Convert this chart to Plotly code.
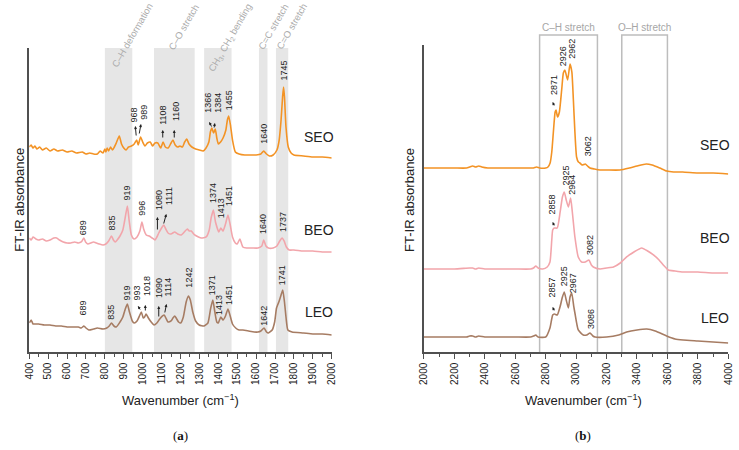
import plotly.graph_objects as go

# spectra (wavenumber, stacked absorbance in a.u.)
seo_a_wn = [400, 410, 420, 430, 440, 455, 470, 490, 510, 530, 550, 575, 600, 625, 650, 680, 700, 720, 740, 760,
            775, 790, 800, 805, 812, 820, 830, 840, 850, 860, 876, 888, 900, 912, 925, 940, 955, 968, 976, 989,
            1000, 1012, 1025, 1040, 1052, 1065, 1080, 1095, 1108, 1120, 1135, 1150, 1160, 1172, 1185, 1197, 1210,
            1222, 1233, 1245, 1260, 1280, 1300, 1320, 1335, 1350, 1358, 1366, 1375, 1384, 1392, 1400, 1412, 1425,
            1440, 1448, 1455, 1465, 1475, 1490, 1510, 1540, 1570, 1600, 1625, 1640, 1655, 1670, 1690, 1710, 1722,
            1732, 1740, 1745, 1750, 1758, 1770, 1785, 1800, 1850, 1900, 1950, 2000]
seo_a_abs = [205, 207, 204, 206, 203, 205, 202, 204, 201, 203, 201, 202, 200, 201, 199, 200, 198, 199, 198, 198,
             201, 199, 203, 200, 204, 201, 205, 202, 205, 209, 216, 208, 204, 202, 205, 206, 208, 212, 207, 215,
             210, 206, 209, 210, 206, 209, 209, 204, 210, 205, 204, 209, 212, 207, 205, 206, 205,
             210, 213, 208, 205, 203, 202, 201, 204, 210, 220, 224, 219, 223, 214, 208, 210, 214,
             222, 232, 236, 226, 212, 200, 198, 197, 197, 197, 198, 201, 198, 196, 197, 202, 212,
             232, 255, 265, 255, 225, 205, 199, 197, 196, 195, 195, 194]

beo_a_wn = [400, 410, 420, 435, 450, 470, 490, 510, 530, 545, 560, 580, 600, 620, 640, 660, 675, 689, 698, 710,
            725, 740, 755, 770, 790, 805, 820, 835, 845, 855, 865, 880, 895, 908, 919, 928, 940, 954, 970, 985,
            996, 1005, 1019, 1035, 1050, 1065, 1075, 1085, 1100, 1111, 1122, 1134, 1150, 1169, 1185, 1204, 1220,
            1236, 1246, 1257, 1275, 1295, 1310, 1336, 1352, 1362, 1374, 1385, 1403, 1413, 1425, 1438, 1451, 1462,
            1475, 1490, 1500, 1514, 1530, 1550, 1580, 1610, 1630, 1640, 1652, 1665, 1690, 1710, 1725, 1737, 1748,
            1760, 1775, 1800, 1850, 1900, 1950, 2000]
beo_a_abs = [114, 112, 115, 113, 112, 113, 111, 112, 114, 114, 112, 110, 109, 109, 110, 109, 110, 114, 110, 108,
             109, 110, 109, 108, 107, 108, 111, 116, 112, 110, 112, 116, 122, 135, 146, 132, 117, 113, 115, 121,
             130, 123, 117, 116, 114, 112, 115, 119, 124, 127, 123, 119, 118, 120, 118, 117, 120,
             123, 121, 121, 117, 115, 114, 115, 122, 134, 142, 130, 120, 124, 121, 128, 137, 128,
             115, 109, 108, 113, 105, 104, 104, 104, 106, 112, 106, 104, 104, 106, 111, 114, 111,
             105, 102, 102, 101, 101, 100, 100]

leo_a_wn = [400, 410, 420, 430, 450, 480, 510, 540, 570, 600, 630, 660, 675, 689, 700, 715, 740, 760, 790, 810,
            823, 835, 848, 860, 880, 895, 908, 919, 930, 945, 955, 970, 985, 993, 1003, 1010, 1018, 1030, 1045,
            1060, 1075, 1090, 1105, 1114, 1125, 1134, 1150, 1160, 1170, 1180, 1190, 1201, 1215, 1230, 1242, 1252,
            1265, 1280, 1299, 1325, 1345, 1360, 1371, 1380, 1392, 1400, 1413, 1425, 1438, 1451, 1460, 1475, 1492,
            1510, 1530, 1560, 1590, 1610, 1625, 1642, 1655, 1665, 1685, 1698, 1708, 1720, 1732, 1741, 1750, 1758,
            1768, 1790, 1850, 1900, 1950, 2000]
leo_a_abs = [29, 32, 28, 28, 28, 27, 27, 26, 26, 25, 25, 25, 24, 26, 24, 22, 23, 24, 23, 24,
             26, 29, 26, 25, 30, 35, 43, 48, 40, 31, 29, 31, 37, 40, 34, 35, 38, 34, 30,
             27, 29, 33, 36, 37, 33, 30, 31, 34, 36, 33, 30, 29, 35, 50, 56, 52,
             40, 31, 27, 26, 29, 44, 52, 42, 30, 29, 35, 32, 36, 43, 38, 28, 24,
             22, 22, 21, 20, 20, 21, 24, 20, 19, 22, 30, 44, 50, 57, 62, 50, 35,
             22, 20, 19, 18, 18, 17]

seo_b_wn = [2000, 2100, 2200, 2280, 2300, 2320, 2340, 2360, 2380, 2420, 2500, 2600, 2680, 2720, 2740, 2760, 2800,
            2815, 2829, 2840, 2850, 2862, 2868, 2878, 2890, 2905, 2916, 2926, 2944, 2960, 2972, 2982, 2992, 3003,
            3015, 3025, 3040, 3060, 3075, 3091, 3120, 3157, 3200, 3288, 3350, 3400, 3460, 3500, 3550, 3595, 3640,
            3700, 3800, 3900, 4000]
seo_b_abs = [184, 184, 184, 184, 185, 186, 185, 186, 185, 184, 184, 184, 184, 184, 185, 184, 184,
             185, 189, 200, 219, 240, 242, 235, 240, 262, 279, 282, 272, 288, 280, 252, 220, 195,
             190, 189, 187, 188, 186, 184, 183, 182, 182, 182, 184, 186, 188, 187, 184, 181, 180,
             180, 179, 179, 178]

beo_b_wn = [2000, 2100, 2200, 2300, 2320, 2340, 2360, 2400, 2500, 2600, 2700, 2720, 2735, 2750, 2780, 2810, 2828,
            2840, 2846, 2856, 2876, 2895, 2910, 2922, 2935, 2949, 2964, 2975, 2992, 3014, 3036, 3060, 3084, 3100,
            3113, 3157, 3200, 3245, 3290, 3332, 3380, 3431, 3470, 3508, 3545, 3573, 3606, 3650, 3704, 3800, 3900,
            4000]
beo_b_abs = [83, 83, 83, 84, 84, 83, 84, 83, 83, 83, 83, 84, 86, 84, 83, 85, 90,
             112, 122, 124, 124, 140, 155, 160, 152, 145, 154, 140, 115, 95, 90, 90, 92, 87,
             85, 83, 84, 85, 89, 95, 100, 104, 101, 97, 92, 87, 82, 81, 80, 80, 79,
             79]

leo_b_wn = [2000, 2100, 2200, 2280, 2300, 2320, 2340, 2360, 2400, 2500, 2600, 2700, 2720, 2735, 2750, 2800, 2828,
            2846, 2857, 2876, 2894, 2910, 2922, 2935, 2949, 2960, 2971, 2985, 2992, 3014, 3047, 3070, 3091, 3110,
            3124, 3200, 3280, 3332, 3400, 3464, 3520, 3595, 3650, 3704, 3800, 3900, 4000]
leo_b_abs = [15, 15, 15, 15, 16, 16, 15, 16, 15, 15, 15, 15, 16, 17, 15, 15, 24,
             37, 38, 37, 45, 55, 60, 52, 44, 55, 59, 45, 39, 22, 17, 17, 19, 16,
             15, 15, 17, 20, 22, 23, 21, 16, 13, 12, 11, 10, 9]

samples = ['SEO', 'BEO', 'LEO']
colors = {'SEO': '#F39325', 'BEO': '#F2A5AB', 'LEO': '#A67C63'}

# peak labels: (wavenumber, label base height, text)
peaks_a = [(954, 228, '968'), (1003, 230, '989'), (1104, 225, '1108'), (1174, 229, '1160'),
           (1344, 237, '1366'), (1397, 237, '1384'), (1458, 240, '1455'), (1640, 206, '1640'), (1745, 269, '1745'),
           (688, 115, '689'), (838, 119, '835'), (917, 149, '919'), (993, 134, '996'), (1086, 140, '1080'),
           (1139, 145, '1111'), (1372, 147, '1374'), (1416, 132, '1413'), (1457, 144, '1451'), (1637, 116, '1640'),
           (1742, 118, '1737'),
           (689, 35, '689'), (834, 30, '835'), (917, 49, '919'), (970, 49, '993'), (1023, 54, '1018'),
           (1086, 52, '1090'), (1139, 54, '1114'), (1243, 62, '1242'), (1368, 55, '1371'), (1404, 35, '1413'),
           (1457, 45, '1451'), (1640, 24, '1642'), (1738, 65, '1741')]
peaks_b = [(2854, 255, '2871'), (2916, 284, '2926'), (2971, 291, '2962'), (3080, 194, '3062'),
           (2839, 135, '2858'), (2931, 164, '2925'), (2971, 155, '2964'), (3091, 95, '3082'),
           (2839, 52, '2857'), (2922, 64, '2925'), (2981, 57, '2967'), (3098, 21, '3086')]

# small arrows: (wavenumber, head height, dx px, dy px)
arrows_a = [(961, 226, 1, 11), (991, 228, -2, 11), (1106, 222, 0, 9), (1167, 222, 0, 9),
            (1352, 230, 3, 6), (1382, 229, -1, 6), (1078, 135, 0, 14), (1125, 138, -3, 11),
            (975, 46, 3, 5), (1014, 47, 0, 7), (1085, 46, 0, 12), (1126, 48, -2, 10)]
arrows_b = [(2846, 250, 2, 5), (2846, 130, 2, 5), (2846, 45, 2, 5)]

bands_a = [(800, 945), (1060, 1275), (1325, 1470), (1615, 1660), (1705, 1770)]
band_labels_a = [(942, 0.922, 'C–H deformation'), (1218, 0.941, 'C–O stretch'),
                 (1462, 0.916, 'CH<sub>3</sub>, CH<sub>2</sub> bending'), (1691, 0.941, 'C=C stretch'),
                 (1786, 0.942, 'C=O stretch')]
boxes_b = [(2760, 3140, 'C–H stretch'), (3300, 3600, 'O–H stretch')]

name_pos_a = {'SEO': 215, 'BEO': 122, 'LEO': 40}
name_pos_b = {'SEO': 207, 'BEO': 114, 'LEO': 34}

font = 'Liberation Sans, Arial, sans-serif'
axis_col = '#505050'

fig = go.Figure()

spectra = {
    'SEO': (seo_a_wn, seo_a_abs, seo_b_wn, seo_b_abs),
    'BEO': (beo_a_wn, beo_a_abs, beo_b_wn, beo_b_abs),
    'LEO': (leo_a_wn, leo_a_abs, leo_b_wn, leo_b_abs),
}
for s in samples:
    wa, ya, wb, yb = spectra[s]
    fig.add_trace(go.Scatter(x=wa, y=ya, mode='lines', line=dict(color=colors[s], width=1.6, shape='spline', smoothing=0.5),
                             showlegend=False, hoverinfo='skip'))
    fig.add_trace(go.Scatter(x=wb, y=yb, mode='lines', xaxis='x2', yaxis='y2',
                             line=dict(color=colors[s], width=1.6, shape='spline', smoothing=0.5),
                             showlegend=False, hoverinfo='skip'))

# grey bands in (a), open boxes in (b)
for x0, x1 in bands_a:
    fig.add_shape(type='rect', xref='x', yref='y domain', x0=x0, x1=x1, y0=0, y1=1,
                  fillcolor='#e6e6e6', line_width=0, layer='below')
for x0, x1, _ in boxes_b:
    fig.add_shape(type='path', xref='x2', yref='paper',
                  path=f'M {x0},0.2178 L {x0},0.922 L {x1},0.922 L {x1},0.2178',
                  line=dict(color='#bdbdbd', width=1.5), layer='below')

ann = []
for x, y, t in band_labels_a:
    ann.append(dict(x=x, y=y, xref='x', yref='paper', text=t, textangle=-60, showarrow=False,
                    xanchor='center', yanchor='middle', font=dict(size=9.5, color='#ababab')))
for x0, x1, t in boxes_b:
    ann.append(dict(x=(x0 + x1) / 2, y=0.922, xref='x2', yref='paper', text=t, showarrow=False,
                    xanchor='center', yanchor='bottom', font=dict(size=10, color='#a6a6a6')))
for x, y, t in peaks_a:
    ann.append(dict(x=x, y=y, xref='x', yref='y', text=t, textangle=-90, showarrow=False,
                    xanchor='center', yanchor='bottom', font=dict(size=9, color='#222')))
for x, y, t in peaks_b:
    ann.append(dict(x=x, y=y, xref='x2', yref='y2', text=t, textangle=-90, showarrow=False,
                    xanchor='center', yanchor='bottom', font=dict(size=9, color='#222')))
for x, y, dx, dy in arrows_a:
    ann.append(dict(x=x, y=y, xref='x', yref='y', text='', showarrow=True, ax=dx, ay=dy,
                    arrowhead=2, arrowsize=0.6, arrowwidth=1, arrowcolor='#222'))
for x, y, dx, dy in arrows_b:
    ann.append(dict(x=x, y=y, xref='x2', yref='y2', text='', showarrow=True, ax=dx, ay=dy,
                    arrowhead=2, arrowsize=0.6, arrowwidth=1, arrowcolor='#222'))
for s in samples:
    ann.append(dict(x=1933, y=name_pos_a[s], xref='x', yref='y', text=s, showarrow=False,
                    font=dict(size=14, color='#222')))
    ann.append(dict(x=3913, y=name_pos_b[s], xref='x2', yref='y2', text=s, showarrow=False,
                    font=dict(size=14, color='#222')))

for xp in (0.027, 0.555):
    ann.append(dict(x=xp, y=0.556, xref='paper', yref='paper', text='FT-IR absorbance', textangle=-90,
                    xanchor='center', yanchor='middle', showarrow=False, font=dict(size=13, color='#222')))
for xp, lab in ((0.2436, 'a'), (0.789, 'b')):
    ann.append(dict(x=xp, y=0.111, xref='paper', yref='paper', text='Wavenumber (cm<sup>−1</sup>)',
                    xanchor='center', yanchor='middle', showarrow=False, font=dict(size=13, color='#222')))
    ann.append(dict(x=xp, y=0.033, xref='paper', yref='paper', text=f'(<b>{lab}</b>)', showarrow=False,
                    xanchor='center', yanchor='middle',
                    font=dict(size=13, color='#111', family='Liberation Serif, Times New Roman, serif')))

xcommon = dict(showline=True, linecolor=axis_col, linewidth=1.5, ticks='outside', ticklen=5, tickwidth=1.2,
               tickcolor=axis_col, tickangle=-90, showgrid=False, zeroline=False, automargin=False,
               tickfont=dict(size=10, color='#222'))
ycommon = dict(showline=True, linecolor=axis_col, linewidth=1.5, showticklabels=False, ticks='',
               showgrid=False, zeroline=False, automargin=False)

fig.update_layout(
    width=739, height=450,
    margin=dict(l=0, r=0, t=0, b=0),
    paper_bgcolor='white', plot_bgcolor='white',
    font=dict(family=font, color='#222'),
    xaxis=dict(domain=[0.0396, 0.4489], range=[400, 2000], dtick=100, tick0=400, anchor='y',
               minor=dict(dtick=50, ticklen=3, tickcolor=axis_col, ticks='outside'), **xcommon),
    yaxis=dict(domain=[0.2178, 0.8933], range=[0, 304], anchor='x', **ycommon),
    xaxis2=dict(domain=[0.5737, 0.9855], range=[2000, 4000], dtick=200, tick0=2000, anchor='y2',
                minor=dict(dtick=100, ticklen=3, tickcolor=axis_col, ticks='outside'), **xcommon),
    yaxis2=dict(domain=[0.2178, 0.9], range=[0, 307], anchor='x2', **ycommon),
    annotations=ann,
)

# page body has a default 8px margin; drop it so the figure sits at the window origin
fig.write_html("out.html", config={'displayModeBar': False},
               post_script="document.body.style.margin='0';")
